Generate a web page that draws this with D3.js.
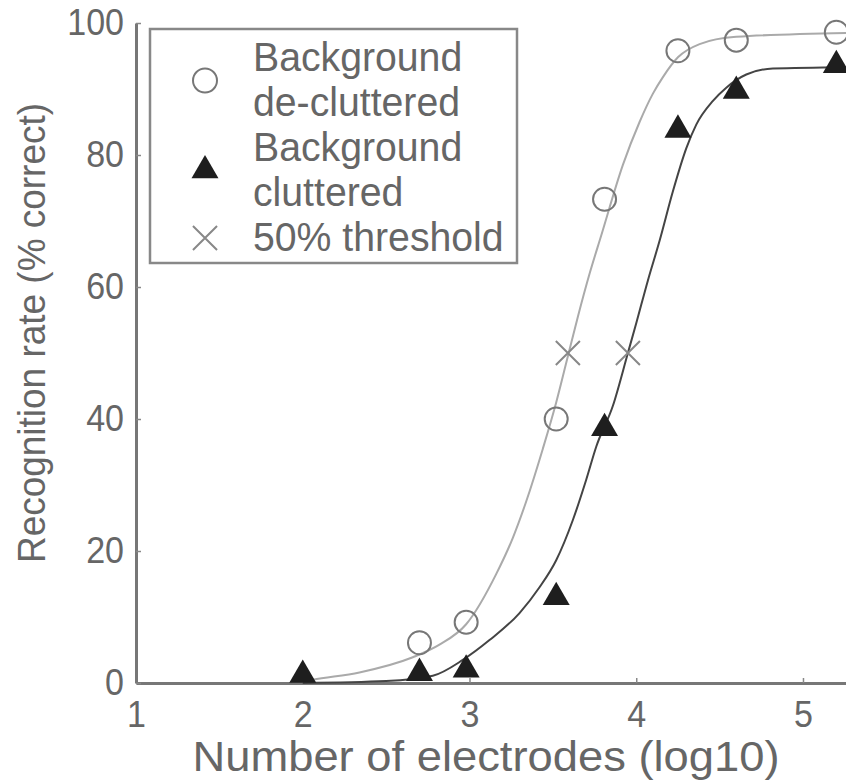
<!DOCTYPE html>
<html>
<head>
<meta charset="utf-8">
<script src="https://cdn.jsdelivr.net/npm/d3@7"></script>
<style>
  body { margin: 0; background: #fff; }
  text { font-family: "Liberation Sans", Arial, sans-serif; fill: #666; }
</style>
</head>
<body>
<div id="chart"></div>
<script>
// measured points, x is log10 of electrode count
const xDecluttered = [2.70, 2.98, 3.52, 3.81, 4.25, 4.60, 5.20];
const yDecluttered = [6.1, 9.2, 40.0, 73.3, 95.8, 97.4, 98.6];

const xCluttered = [2.00, 2.70, 2.98, 3.52, 3.81, 4.25, 4.60, 5.20];
const yCluttered = [1.2, 1.5, 2.0, 13.0, 38.6, 83.8, 89.7, 93.6];

const xThreshold = [3.59, 3.95];
const yThreshold = [50, 50];

// fitted curves
const xFitDecl = [2.00, 2.06, 2.34, 2.66, 2.82, 2.98, 3.16, 3.26, 3.34, 3.44, 3.52, 3.59, 3.65, 3.72, 3.79, 3.92, 4.02, 4.10, 4.16, 4.25, 4.38, 4.60, 5.26];
const yFitDecl = [0.2, 0.5, 1.6, 3.9, 5.8, 8.9, 16.5, 22.0, 27.5, 35.5, 42.5, 49.5, 55.5, 62.0, 67.8, 78.5, 85.0, 89.3, 91.8, 94.8, 96.8, 97.9, 98.5];

const xFitClut = [2.00, 2.50, 2.78, 2.96, 3.12, 3.30, 3.42, 3.52, 3.62, 3.70, 3.76, 3.86, 3.95, 4.00, 4.07, 4.14, 4.22, 4.30, 4.36, 4.46, 4.54, 4.66, 4.82, 5.26];
const yFitClut = [0, 0.3, 1.1, 3.5, 6.5, 10.6, 14.5, 18.6, 24.7, 30.8, 35.8, 42.0, 50, 54.5, 61.0, 67.0, 74.5, 81.0, 84.6, 88.2, 90.2, 92.2, 93.1, 93.3];

const xTicks = [1, 2, 3, 4, 5];
const yTicks = [0, 20, 40, 60, 80, 100];

const legendLabels = [
  ["Background", "de-cluttered"],
  ["Background", "cluttered"],
  ["50% threshold"]
];

const width = 846, height = 780;

const svg = d3.select("#chart")
  .append("svg")
  .attr("width", width)
  .attr("height", height);

const x = d3.scaleLinear().domain([1, 5.258]).range([136, 846]);
const y = d3.scaleLinear().domain([0, 100]).range([683, 23]);

// squeeze text horizontally, the original face is narrower than Arial
function squeeze(sel, k) {
  sel.each(function() {
    const w = this.getComputedTextLength();
    d3.select(this).attr("textLength", w * k).attr("lengthAdjust", "spacingAndGlyphs");
  });
}

// axes
const xAxis = svg.append("g")
  .attr("transform", `translate(0,${y(0)})`)
  .call(d3.axisBottom(x).tickValues(xTicks).tickFormat(d3.format("d"))
    .tickSizeInner(-5).tickSizeOuter(0).tickPadding(18));

const yAxis = svg.append("g")
  .attr("transform", `translate(${x(1)},0)`)
  .call(d3.axisLeft(y).tickValues(yTicks).tickSizeInner(-5).tickSizeOuter(0).tickPadding(12));

[xAxis, yAxis].forEach(a => {
  a.select(".domain").attr("stroke", "#777").attr("stroke-width", 3);
  a.selectAll(".tick line").attr("stroke", "#888").attr("stroke-width", 1.5);
  a.selectAll(".tick text")
    .style("font-size", "37px")
    .style("font-family", "'Liberation Sans', Arial, sans-serif")
    .attr("fill", "#666");
  squeeze(a.selectAll(".tick text"), 0.92);
});

// axis titles
svg.append("text")
  .attr("x", 486)
  .attr("y", 771)
  .attr("text-anchor", "middle")
  .style("font-size", "42px")
  .attr("textLength", 587)
  .attr("lengthAdjust", "spacingAndGlyphs")
  .text("Number of electrodes (log10)");

svg.append("text")
  .attr("transform", "translate(45,333) rotate(-90)")
  .attr("text-anchor", "middle")
  .style("font-size", "38px")
  .attr("textLength", 460)
  .attr("lengthAdjust", "spacingAndGlyphs")
  .text("Recognition rate (% correct)");

// fitted curves
const line = d3.line()
  .x(d => x(d[0]))
  .y(d => y(d[1]))
  .curve(d3.curveMonotoneX);

svg.append("path")
  .datum(d3.zip(xFitDecl, yFitDecl))
  .attr("d", line)
  .attr("fill", "none")
  .attr("stroke", "#aaa")
  .attr("stroke-width", 2);

svg.append("path")
  .datum(d3.zip(xFitClut, yFitClut))
  .attr("d", line)
  .attr("fill", "none")
  .attr("stroke", "#444")
  .attr("stroke-width", 2);

// markers
const triangle = d3.symbol(d3.symbolTriangle, 315);
const cross = d3.symbol(d3.symbolTimes, 380);

svg.append("g")
  .selectAll("circle")
  .data(d3.zip(xDecluttered, yDecluttered))
  .join("circle")
  .attr("cx", d => x(d[0]))
  .attr("cy", d => y(d[1]))
  .attr("r", 11.5)
  .attr("fill", "none")
  .attr("stroke", "#777")
  .attr("stroke-width", 2);

svg.append("g")
  .selectAll("path")
  .data(d3.zip(xCluttered, yCluttered))
  .join("path")
  .attr("transform", d => `translate(${x(d[0])},${y(d[1])})`)
  .attr("d", triangle)
  .attr("fill", "#1e1e1e");

svg.append("g")
  .selectAll("path")
  .data(d3.zip(xThreshold, yThreshold))
  .join("path")
  .attr("transform", d => `translate(${x(d[0])},${y(d[1])})`)
  .attr("d", cross)
  .attr("fill", "none")
  .attr("stroke", "#888")
  .attr("stroke-width", 2);

// legend
const legend = svg.append("g");

legend.append("rect")
  .attr("x", 150)
  .attr("y", 29)
  .attr("width", 367)
  .attr("height", 234)
  .attr("fill", "#fff")
  .attr("stroke", "#888")
  .attr("stroke-width", 2.5);

const lineGap = 45;
let baseline = 71;
const markerY = [];
legendLabels.forEach(lines => {
  const first = baseline;
  lines.forEach(l => {
    legend.append("text")
      .attr("class", "leg")
      .attr("x", 253)
      .attr("y", baseline)
      .style("font-size", "40px")
      .text(l);
    baseline += lineGap;
  });
  markerY.push(first - 13 + (lines.length - 1) * lineGap / 2);
});
squeeze(legend.selectAll("text.leg"), 0.98);

legend.append("circle")
  .attr("cx", 205).attr("cy", markerY[0])
  .attr("r", 12)
  .attr("fill", "none")
  .attr("stroke", "#777")
  .attr("stroke-width", 2);

legend.append("path")
  .attr("transform", `translate(205,${markerY[1]})`)
  .attr("d", triangle)
  .attr("fill", "#1e1e1e");

legend.append("path")
  .attr("transform", `translate(205,${markerY[2]})`)
  .attr("d", cross)
  .attr("fill", "none")
  .attr("stroke", "#888")
  .attr("stroke-width", 2);
</script>
</body>
</html>
